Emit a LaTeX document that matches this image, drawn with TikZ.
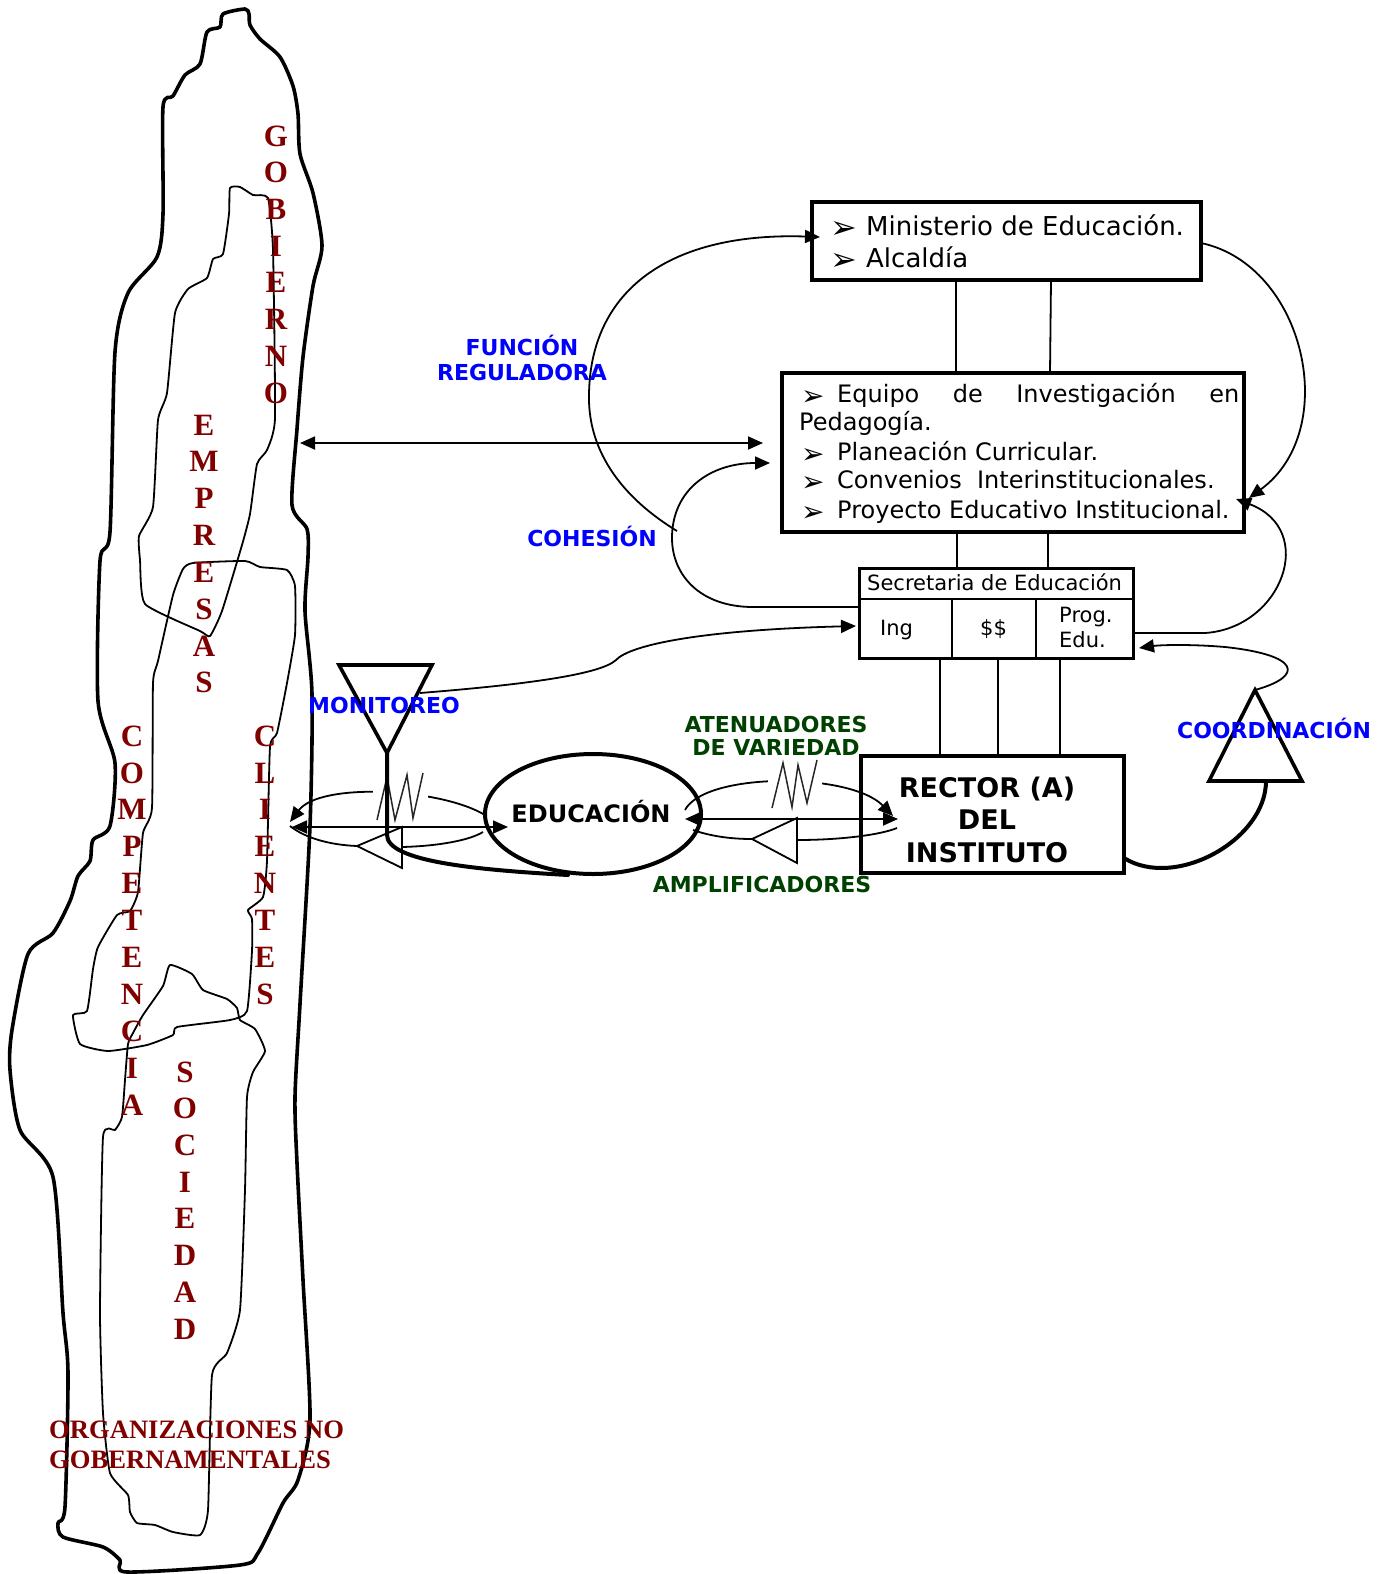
\documentclass[tikz,border=0pt]{standalone}
\usepackage{fontspec}
\setmainfont{DejaVu Sans}
\newfontfamily\tnr{Liberation Serif}
\usetikzlibrary{arrows.meta,shapes.geometric}
\definecolor{maroonred}{RGB}{128,0,0}
\definecolor{labelblue}{RGB}{0,0,255}
\definecolor{labelgreen}{RGB}{0,64,0}
\newcommand\bulletmark[2]{\makebox[36pt][l]{\raisebox{#2}{\fontsize{#1}{#1}\selectfont ➢}}}

\begin{document}
\begin{tikzpicture}[x=1pt,y=-1pt,
  blobline/.style={line width=3.6pt, line join=round},
  zone/.style={line width=1.8pt, line join=round},
  vletter/.style={font=\tnr\bfseries\fontsize{31}{31}\selectfont, text=maroonred, inner sep=0pt},
  boxframe/.style={draw, line width=3.2pt, inner sep=0pt, outer sep=0pt},
  conn/.style={line width=1.8pt},
  thickconn/.style={line width=4pt, line cap=round},
  arrowend/.style={-{Triangle[length=15pt,width=13pt]}},
  bothends/.style={{Triangle[length=15pt,width=13pt]}-{Triangle[length=15pt,width=13pt]}},
  txt/.style={inner sep=0pt, anchor=base west},
  ctxt/.style={inner sep=0pt, anchor=base},
  lbl/.style={inner sep=0pt, anchor=base, font=\bfseries\fontsize{22}{22}\selectfont, text=labelblue},
  glbl/.style={lbl, text=labelgreen},
  amp/.style={line width=1.8pt, fill=white, line join=miter},
  zig/.style={line width=1.5pt, draw=black!85, line join=miter},
  tri/.style={line width=3.6pt, line join=miter, fill=white},
]
\useasboundingbox (0,0) rectangle (1388,1574);

% ---------- environment: outer outline ----------
\draw[blobline] plot[smooth cycle, tension=0.45] coordinates {
 (223,14) (245,9) (249,14) (250,25) (260,39) (280,57) (293,86) (298,114)
 (300,154) (313,193) (322,246) (313,286) (303,357) (297,429) (292,505)
 (307,529) (308,557) (305,611) (312,694) (310,826) (300,1004) (295,1097)
 (297,1163) (303,1280) (310,1420) (298,1480) (283,1503) (258,1553)
 (240,1565) (127,1572) (120,1560) (103,1547) (63,1537) (58,1523) (65,1507)
 (68,1373) (63,1313) (53,1177) (20,1130) (10,1070) (12,1030) (28,954)
 (53,933) (70,901) (78,876) (90,861) (93,840) (110,826) (115,763) (98,701)
 (100,561) (110,532) (115,352) (128,293) (157,257) (163,214) (163,107)
 (173,96) (185,75) (200,64) (207,32) (220,27)};

% ---------- environment: inner zones ----------
\draw[zone] plot[smooth cycle, tension=0.3] coordinates {
 (230,188) (240,187) (253,195) (268,198) (273,250) (275,418) (267,450)
 (257,464) (250,514) (242,545) (222,611) (210,636) (200,631) (145,604)
 (140,560) (139,536) (153,507) (158,420) (167,393) (175,313) (188,289)
 (207,278) (213,259) (223,254) (229,214)};
\draw[zone] plot[smooth cycle, tension=0.3] coordinates {
 (173,595) (183,569) (193,563) (245,561) (260,567) (287,570) (295,586)
 (295,635) (287,683) (277,733) (270,747) (267,861) (263,897) (248,910)
 (252,919) (252,951) (247,1011) (230,1020) (177,1027) (173,1035)
 (147,1045) (108,1051) (80,1044) (73,1015) (87,1011) (93,969) (98,947)
 (117,915) (130,911) (138,892) (143,833) (152,808) (153,683) (158,661)};
\draw[zone] plot[smooth cycle, tension=0.3] coordinates {
 (170,965) (192,974) (203,990) (227,999) (237,1008) (240,1020) (255,1029)
 (265,1051) (253,1072) (247,1097) (245,1190) (240,1310) (227,1353)
 (212,1375) (208,1510) (200,1535) (173,1532) (155,1525) (137,1523)
 (130,1512) (128,1495) (110,1473) (103,1413) (100,1313) (103,1137)
 (115,1130) (122,1117) (125,1080) (128,1044) (133,1033) (143,1015)
 (163,986)};

% ---------- environment: vertical names ----------
\foreach \ch [count=\i from 0] in {G,O,B,I,E,R,N,O}
  \node[vletter] (gob\i) at (276,{136+36.7*\i}) {\ch};
\foreach \ch [count=\i from 0] in {E,M,P,R,E,S,A,S}
  \node[vletter] (emp\i) at (204,{425+36.8*\i}) {\ch};
\foreach \ch [count=\i from 0] in {C,O,M,P,E,T,E,N,C,I,A}
  \node[vletter] (com\i) at (132,{736+36.9*\i}) {\ch};
\foreach \ch [count=\i from 0] in {C,L,I,E,N,T,E,S}
  \node[vletter] (cli\i) at (265,{736+36.9*\i}) {\ch};
\foreach \ch [count=\i from 0] in {S,O,C,I,E,D,A,D}
  \node[vletter] (soc\i) at (185,{1072+36.7*\i}) {\ch};
\node[txt, font=\tnr\bfseries\fontsize{26.6}{26.6}\selectfont, text=maroonred]
  (ong1) at (49,1438) {ORGANIZACIONES NO};
\node[txt, font=\tnr\bfseries\fontsize{26.6}{26.6}\selectfont, text=maroonred]
  (ong2) at (49,1468) {GOBERNAMENTALES};

% ---------- management boxes ----------
\node[boxframe, minimum width=389pt, minimum height=78pt] (ministerio) at (1006.5,241) {};
\node[boxframe, minimum width=462pt, minimum height=159pt] (equipo) at (1013,452.5) {};
\node[boxframe, line width=3pt, minimum width=273.5pt, minimum height=90pt] (secretaria) at (996.25,613) {};
\node[boxframe, line width=3.5pt, minimum width=263pt, minimum height=117pt] (rector) at (992.5,814.5) {};

\node[txt, font=\fontsize{26}{26}\selectfont] (minA) at (830,235) {\bulletmark{32}{-3pt}Ministerio de Educación.};
\node[txt, font=\fontsize{26}{26}\selectfont] (minB) at (830,267) {\bulletmark{32}{-3pt}Alcaldía};

\node[txt, font=\fontsize{24}{24}\selectfont] (eqA) at (801,402)
  {\hbox to 438pt{\bulletmark{28}{-3pt}Equipo\hfill de\hfill Investigación\hfill en}};
\node[txt, font=\fontsize{24}{24}\selectfont] (eqB) at (799,430) {Pedagogía.};
\node[txt, font=\fontsize{24}{24}\selectfont] (eqC) at (801,460) {\bulletmark{28}{-3pt}Planeación Curricular.};
\node[txt, font=\fontsize{24}{24}\selectfont] (eqD) at (801,488) {\bulletmark{28}{-3pt}Convenios\ \ Interinstitucionales.};
\node[txt, font=\fontsize{24}{24}\selectfont] (eqE) at (801,518) {\bulletmark{28}{-3pt}Proyecto Educativo Institucional.};

% secretaria cells
\draw[line width=2pt] ([yshift=-31pt]secretaria.north west) -- ([yshift=-31pt]secretaria.north east);
\draw[line width=2pt] ([xshift=92.5pt,yshift=-31pt]secretaria.north west) -- ([xshift=92.5pt]secretaria.south west);
\draw[line width=2pt] ([xshift=176.5pt,yshift=-31pt]secretaria.north west) -- ([xshift=176.5pt]secretaria.south west);
\node[txt, font=\fontsize{21}{21}\selectfont] (secT) at (867,590) {Secretaria de Educación};
\node[txt, font=\fontsize{21}{21}\selectfont] (secIng) at (880,635) {Ing};
\node[txt, font=\fontsize{21}{21}\selectfont] (secPesos) at (980,635) {\$\$};
\node[txt, font=\fontsize{21}{21}\selectfont] (secProg) at (1059,622) {Prog.};
\node[txt, font=\fontsize{21}{21}\selectfont] (secEdu) at (1059,647) {Edu.};

\node[ctxt, font=\bfseries\fontsize{27}{27}\selectfont] (recA) at (987,797) {RECTOR (A)};
\node[ctxt, font=\bfseries\fontsize{27}{27}\selectfont] (recB) at (987,829) {DEL};
\node[ctxt, font=\bfseries\fontsize{27}{27}\selectfont] (recC) at (987,862) {INSTITUTO};

% vertical links between boxes
\draw[conn] ([xshift=-50.5pt]ministerio.south) -- ([xshift=-57pt]equipo.north);
\draw[conn] ([xshift=44.5pt]ministerio.south) -- ([xshift=37pt]equipo.north);
\draw[conn] ([xshift=-56pt]equipo.south) -- ([xshift=-39.25pt]secretaria.north);
\draw[conn] ([xshift=35pt]equipo.south) -- ([xshift=51.75pt]secretaria.north);
\draw[conn] ([xshift=-56.25pt]secretaria.south) -- ([xshift=-52.5pt]rector.north);
\draw[conn] ([xshift=1.75pt]secretaria.south) -- ([xshift=5.5pt]rector.north);
\draw[conn] ([xshift=63.75pt]secretaria.south) -- ([xshift=67.5pt]rector.north);

% ---------- operation ----------
\node[draw, ellipse, line width=4pt, minimum width=216pt, minimum height=120pt, inner sep=0pt] (educacion) at (593,814) {};
\node[ctxt, font=\bfseries\fontsize{24}{24}\selectfont] (eduT) at (591,822) {EDUCACIÓN};

% environment <-> management
\coordinate (envA) at (300,443);
\coordinate (eqIn) at (763,443);
\draw[conn, bothends] (envA) -- (eqIn);

% regulating loop towards ministerio
\coordinate (regStart) at (677,531);
\coordinate (minIn) at (820,237);
\draw[conn, arrowend] (regStart) .. controls (610,490) and (588,440) .. (589,395)
  .. controls (590,290) and (670,232) .. (minIn);

% cohesion loop (secretaria to equipo)
\coordinate (cohIn) at (770,463);
\draw[conn, arrowend] (secretaria.west |- 0,607) -- (753,607)
  .. controls (700,607) and (672,575) .. (672,538)
  .. controls (672,490) and (710,463) .. (cohIn);

% ministerio to equipo (right)
\coordinate (eqRight) at (1249,498);
\draw[conn, arrowend] (ministerio.east |- 0,243) .. controls (1305,265) and (1342,430) .. (eqRight);

% secretaria to equipo (right)
\coordinate (eqRightB) at (1236,499);
\draw[conn, arrowend] (secretaria.east |- 0,633) -- (1205,633)
  .. controls (1282,628) and (1318,530) .. (eqRightB);

% monitoring channel
\coordinate (monA) at (339,665);
\coordinate (monB) at (432,665);
\coordinate (monApex) at (387,753);
\draw[tri] (monA) -- (monB) -- (monApex) -- cycle;
\coordinate (monOut) at (420,693);
\coordinate (secIn) at (856,626);
\draw[conn, arrowend] (monOut) .. controls (520,685) and (600,675) .. (616,660)
  .. controls (630,645) and (700,630) .. (secIn);

% coordination channel
\coordinate (coA) at (1209,781);
\coordinate (coB) at (1302,781);
\coordinate (coApex) at (1255,690);
\draw[tri] (coA) -- (coB) -- (coApex) -- cycle;
\coordinate (secInB) at (1139,648);
\draw[conn, arrowend] (coApex) .. controls (1305,676) and (1300,655) .. (1225,647)
  .. controls (1190,644) and (1160,645) .. (secInB);
\draw[thickconn] (1266,781) .. controls (1266,840) and (1175,890) .. (rector.east |- 0,858);

% ---------- environment <-> education loop ----------
\draw[conn] (educacion.west |- 0,832) .. controls (470,840) and (440,846) .. (402,847);
\draw[conn] (357,846) .. controls (330,845) and (305,838) .. (290,826);
\draw[amp] (357,846) -- (402,827) -- (402,868) -- cycle;
\draw[conn, arrowend] (485,815) .. controls (440,788) and (320,782) .. (290,822);
\draw[conn, bothends] (292,827) -- (508,827);
\fill[white] (373,768) rectangle (428,821);
\draw[zig] (377,820) -- (387,777) -- (395,820) -- (407,775) -- (413,818) -- (423,773);
\draw[thickconn] (monApex) -- (387,835) .. controls (387,862) and (480,870) .. (568,875);

% ---------- education <-> rector loop ----------
\draw[conn] (693,830) .. controls (710,836) and (730,839) .. (752,839);
\draw[conn] (797,840) .. controls (840,840) and (880,835) .. (897,828);
\draw[amp] (752,839) -- (797,818) -- (797,863) -- cycle;
\draw[conn, arrowend] (685,810) .. controls (705,772) and (850,772) .. (893,816);
\draw[conn, bothends] (685,819) -- (898,819);
\fill[white] (768,757) rectangle (822,810);
\draw[zig] (772,808) -- (783,763) -- (792,807) -- (798,765) -- (807,803) -- (817,760);

% ---------- labels ----------
\node[lbl] (funcion) at (522,355) {FUNCIÓN};
\node[lbl] (reguladora) at (522,380) {REGULADORA};
\node[lbl] (cohesion) at (592,546) {COHESIÓN};
\node[lbl] (monitoreo) at (384,713) {MONITOREO};
\node[lbl] (coordinacion) at (1274,738) {COORDINACIÓN};
\node[glbl] (atenuadores) at (776,732) {ATENUADORES};
\node[glbl] (variedad) at (776,755) {DE VARIEDAD};
\node[glbl] (amplificadores) at (762,892) {AMPLIFICADORES};
\end{tikzpicture}
\end{document}
